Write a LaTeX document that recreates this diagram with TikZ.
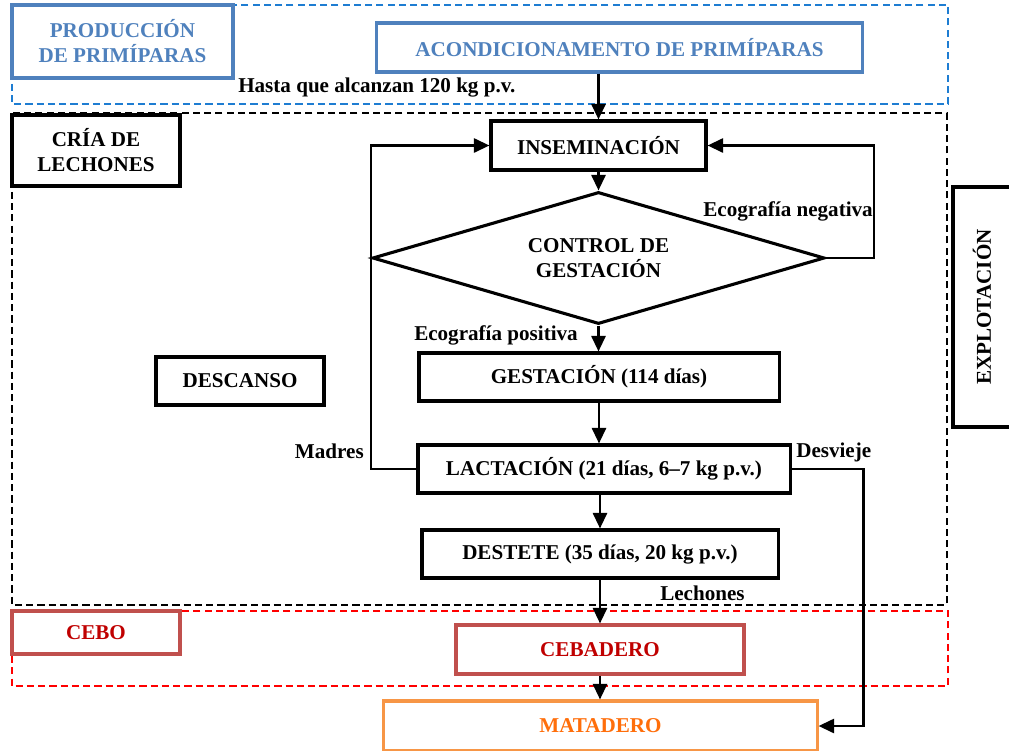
\documentclass[tikz,border=0pt]{standalone}
\usepackage{fontspec}
\setmainfont{Liberation Serif}
\usetikzlibrary{shapes.geometric,arrows.meta}
\definecolor{azulzona}{RGB}{30,125,210}
\definecolor{azulcaja}{RGB}{79,129,189}
\definecolor{rojocaja}{RGB}{192,80,77}
\definecolor{rojotexto}{RGB}{192,0,0}
\definecolor{naranjacaja}{RGB}{247,150,70}
\definecolor{naranjatexto}{RGB}{255,110,10}
\tikzset{
  caja/.style={draw, fill=white, line width=2.2pt, inner sep=0pt, align=center,
    font=\fontsize{15}{17.8}\selectfont\bfseries},
  flecha/.style={-{Triangle[length=11pt,width=10pt]}, line width=1.7pt},
  zona/.style={line width=1.2pt, dash pattern=on 5pt off 3pt},
  etiqueta/.style={inner sep=0pt, font=\fontsize{15}{17.8}\selectfont\bfseries},
}
\begin{document}
\begin{tikzpicture}[x=0.025cm,y=-0.025cm]
    \useasboundingbox (0,0) rectangle (1009,751);
    % zonas
    \draw[zona, azulzona] (12,5) rectangle (948,104);
    \draw[zona, black] (12,113) rectangle (947,605);
    \draw[zona, red] (12,611) rectangle (948,686);
    % titulos de zona
    \node[caja, draw=azulcaja, text=azulcaja, minimum width=5.525cm, minimum height=1.825cm]
      (produc) at (122.5,41.5) {PRODUCCIÓN\\DE PRIMÍPARAS};
    \node[caja, minimum width=4.2cm, minimum height=1.775cm]
      (cria) at (96,150.5) {CRÍA DE\\LECHONES};
    \node[caja, draw=rojocaja, text=rojotexto, minimum width=4.2cm, minimum height=1.075cm]
      (cebo) at (96,632.5) {CEBO};
    \node[caja, rotate=90, minimum width=6cm, minimum height=1.45cm]
      (explot) at (982,307) {EXPLOTACIÓN};
    \node[caja, minimum width=4.2cm, minimum height=1.2cm]
      (descanso) at (240,381) {DESCANSO};
    % etapas
    \node[caja, draw=azulcaja, text=azulcaja, minimum width=12.125cm, minimum height=1.225cm]
      (acond) at (619.5,47.5) {ACONDICIONAMENTO DE PRIMÍPARAS};
    \node[caja, minimum width=5.375cm, minimum height=1.225cm]
      (insem) at (598.5,145.5) {INSEMINACIÓN};
    \node[caja, diamond, shape aspect=3.4, minimum width=11.3cm, minimum height=3.3cm]
      (control) at (598.5,258) {CONTROL DE\\GESTACIÓN};
    \node[caja, minimum width=9cm, minimum height=1.2cm]
      (gest) at (599,377) {GESTACIÓN (114 días)};
    \node[caja, minimum width=9.3cm, minimum height=1.2cm]
      (lact) at (604,469) {LACTACIÓN (21 días, 6--7 kg p.v.)};
    \node[caja, minimum width=8.9cm, minimum height=1.2cm]
      (destete) at (600,554) {DESTETE (35 días, 20 kg p.v.)};
    \node[caja, draw=rojocaja, text=rojotexto, minimum width=7.2cm, minimum height=1.225cm]
      (cebad) at (600,649.5) {CEBADERO};
    \node[caja, draw=naranjacaja, text=naranjatexto, minimum width=10.825cm, minimum height=1.25cm]
      (matad) at (600.5,726) {MATADERO};
    % flechas
    \draw[flecha] (acond.south -| insem.north) -- (insem.north);
    \draw[flecha] (insem) -- (control);
    \draw[flecha] (control.east) -- ++(48,0) |- (insem.east);
    \draw[flecha] (control.south) -- (control.south |- gest.north);
    \draw[flecha] (gest.south) -- (gest.south |- lact.north);
    \draw[flecha] (lact.west) -| (control.west) |- (insem.west);
    \draw[flecha] (destete.north |- lact.south) -- (destete.north);
    \draw[flecha] (lact.east) -- ++(72,0) |- (matad.east);
    \draw[flecha] (destete.south) -- (destete.south |- cebad.north);
    \draw[flecha] (cebad.south) -- (cebad.south |- matad.north);
    % textos
    \node[etiqueta, anchor=west] (hasta) at (238,88) {Hasta que alcanzan 120 kg p.v.};
    \node[etiqueta, anchor=east] (econeg) at (873,211) {Ecografía negativa};
    \node[etiqueta, anchor=east] (ecopos) at (578,335) {Ecografía positiva};
    \node[etiqueta, anchor=east] (madres) at (364,451) {Madres};
    \node[etiqueta, anchor=west] (desvieje) at (796,452) {Desvieje};
    \node[etiqueta, anchor=west] (lechones) at (660,593) {Lechones};
  \end{tikzpicture}
\end{document}
